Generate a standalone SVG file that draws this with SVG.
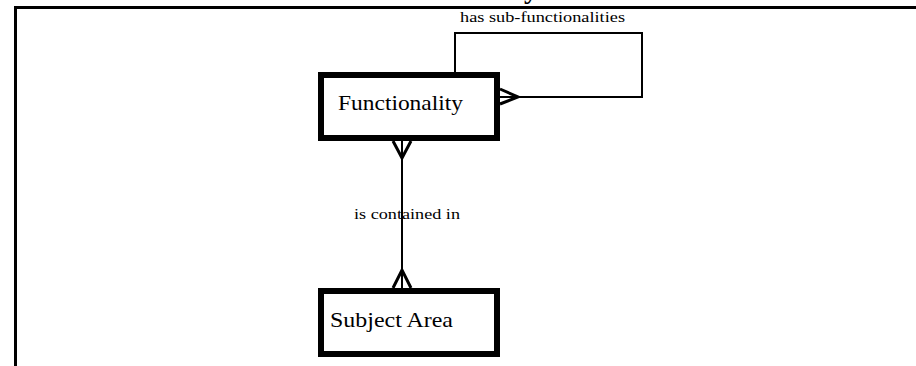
<svg xmlns="http://www.w3.org/2000/svg" width="916" height="366" viewBox="0 0 916 366">
  <style>
    .frame { fill: none; stroke: #000; stroke-width: 3; }
    .entity rect { fill: #fff; stroke: #000; stroke-width: 6; }
    .entity text { font-family: "Liberation Serif", "Times New Roman", serif; font-size: 22px; fill: #000; }
    .rel { fill: none; stroke: #000; stroke-width: 2; }
    .crow { fill: none; stroke: #000; stroke-width: 3; stroke-linejoin: miter; }
    .label { font-family: "Liberation Serif", "Times New Roman", serif; font-size: 15px; fill: #000; }
    .title { font-family: "Liberation Serif", "Times New Roman", serif; font-size: 28px; font-weight: bold; fill: #000; }
  </style>

  <rect width="916" height="366" fill="#fff"/>

  <!-- page title, mostly above the visible area -->
  <text class="title" x="524" y="-2">y</text>

  <!-- diagram frame -->
  <path class="frame" d="M15.5,366 V7.5 H916"/>

  <!-- relationships -->
  <g id="connectors">
    <!-- self relationship: has sub-functionalities -->
    <path class="rel" d="M455,72 V33 H642 V97 H500"/>
    <path class="crow" d="M500,89 L518,97 L500,104"/>
    <text class="label" x="460" y="22" textLength="165" lengthAdjust="spacingAndGlyphs">has sub-functionalities</text>

    <!-- Functionality to Subject Area: is contained in -->
    <path class="rel" d="M402,141 V288"/>
    <path class="crow" d="M393,141 L402,158 L411,141"/>
    <path class="crow" d="M393,288 L402,270 L411,288"/>
    <text class="label" x="354" y="219" textLength="106" lengthAdjust="spacingAndGlyphs">is contained in</text>
  </g>

  <g id="functionality" class="entity">
    <rect x="321" y="75" width="176" height="63"/>
    <text x="338" y="110" textLength="125" lengthAdjust="spacingAndGlyphs">Functionality</text>
  </g>

  <g id="subject-area" class="entity">
    <rect x="321" y="291" width="176" height="63"/>
    <text x="330" y="327" textLength="123" lengthAdjust="spacingAndGlyphs">Subject Area</text>
  </g>
</svg>
